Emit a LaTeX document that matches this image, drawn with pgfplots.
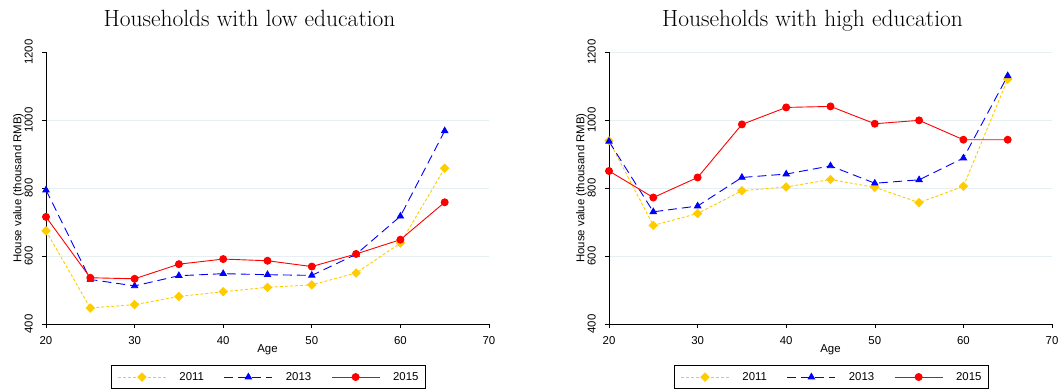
\documentclass[border=0pt]{standalone}
\usepackage{pgfplots}
\pgfplotsset{compat=1.18}
\usepackage{fontspec}
\setsansfont{Liberation Sans}
\definecolor{cgold}{RGB}{255,204,0}
\definecolor{cgrid}{RGB}{230,239,242}
\newcommand{\sfs}{\sffamily\fontsize{11.4}{13}\selectfont}
\pgfplotsset{
  hh/.style={
    width=443pt, height=272pt, scale only axis,
    xmin=20, xmax=70, ymin=400, ymax=1200,
    xtick={20,30,...,70},
    axis x line*=bottom, axis y line*=left,
    tick align=outside, major tick length=4pt,
    tick style={black, line width=0.6pt},
    axis line style={line width=0.8pt},
    ymajorgrids, major grid style={cgrid, line width=0.8pt},
    /pgf/number format/assume math mode=true,
    /pgf/number format/1000 sep={},
    tick label style={font=\sfs},
    yticklabel style={rotate=90, anchor=south, inner sep=0pt, yshift=9pt},
    xticklabel style={anchor=north, inner sep=0pt, yshift=-8pt},
    xlabel={Age}, ylabel={House value (thousand RMB)},
    xlabel style={font=\sfs, at={(axis description cs:0.5,0)}, anchor=north, inner sep=0pt, yshift=-20pt},
    ylabel style={font=\sfs, at={(axis description cs:0,0.5)}, anchor=south, inner sep=0pt, yshift=22pt},
    title style={font=\rmfamily\fontsize{23.5}{26}\selectfont, at={(axis description cs:0.5,1)}, anchor=base, inner sep=0pt, yshift=20pt, xshift=-18pt},
    legend columns=3,
    legend style={at={(axis description cs:0.5,0)}, anchor=north, yshift=-41pt, xshift=1pt, draw=black, line width=0.6pt,
      font=\sfs, inner xsep=6pt, inner ysep=6pt,
      nodes={inner sep=1pt},
      /tikz/every odd column/.append style={column sep=12pt},
      /tikz/every even column/.append style={column sep=19pt}},
    legend image code/.code={\draw[mark repeat=2,mark phase=2] plot coordinates {(0pt,0pt) (24pt,0pt) (48pt,0pt)};},
    s11/.style={cgold, line width=0.9pt, dash pattern=on 3pt off 2pt, mark=square*, mark size=2.9pt, mark options={solid, rotate=45, fill=cgold}},
    s13/.style={blue, line width=0.9pt, dash pattern=on 9pt off 5pt, mark=triangle*, mark size=3.6pt, mark options={solid, fill=blue}},
    s15/.style={red, line width=0.9pt, mark=*, mark size=3.5pt, mark options={solid, fill=red}},
  }
}
\begin{document}
\begin{tikzpicture}
\begin{axis}[hh, title={Households with low education},
  ytick={400,600,800,1000}, extra y ticks={1200}, extra y tick style={ymajorgrids=false}]
\coordinate (O) at (rel axis cs:0,0);
\addplot[s11] coordinates {(20,674) (25,447) (30,457) (35,481) (40,495) (45,508) (50,515) (55,550) (60,638) (65,858)};
\addplot[s13] coordinates {(20,794) (25,531) (30,512) (35,542) (40,548) (45,545) (50,543) (55,605) (60,717) (65,968)};
\addplot[s15] coordinates {(20,715) (25,536) (30,533) (35,576) (40,591) (45,586) (50,569) (55,606) (60,648) (65,758)};
\legend{2011,2013,2015}
\end{axis}
\begin{axis}[hh, at={(563pt,0pt)}, title={Households with high education}, ytick={400,600,...,1200}]
\addplot[s11] coordinates {(20,939) (25,690) (30,725) (35,792) (40,803) (45,825) (50,802) (55,757) (60,805) (65,1120)};
\addplot[s13] coordinates {(20,937) (25,730) (30,747) (35,831) (40,841) (45,865) (50,814) (55,824) (60,888) (65,1130)};
\addplot[s15] coordinates {(20,850) (25,772) (30,831) (35,987) (40,1037) (45,1040) (50,989) (55,999) (60,942) (65,942)};
\legend{2011,2013,2015}
\end{axis}
\pgfresetboundingbox
\path[use as bounding box] ([shift={(-46pt,-65pt)}]O) rectangle ([shift={(1012pt,324pt)}]O);
\end{tikzpicture}
\end{document}
